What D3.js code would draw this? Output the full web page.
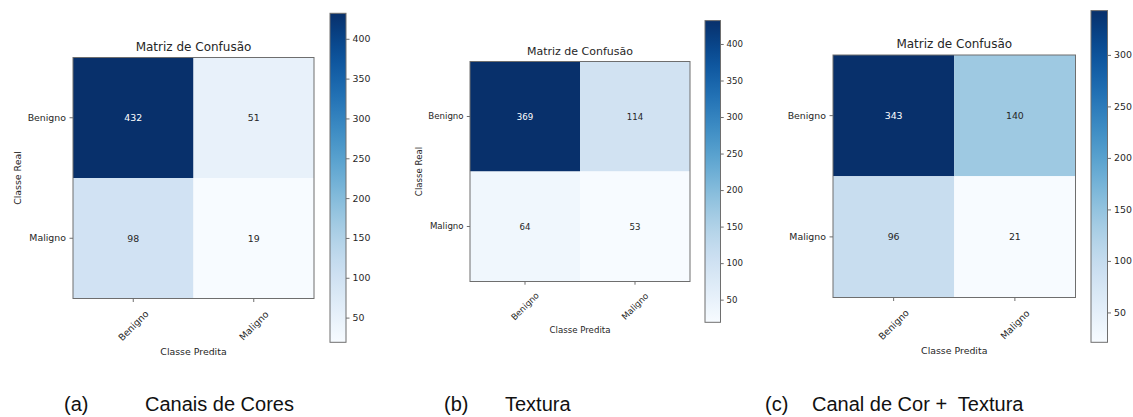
<!DOCTYPE html>
<html>
<head>
<meta charset="utf-8">
<script src="https://cdn.jsdelivr.net/npm/d3@7"></script>
<style>
  html, body { margin: 0; padding: 0; background: #fff; }
  svg { display: block; }
</style>
</head>
<body>
<svg id="chart" width="1133" height="417"></svg>
<script>
// Confusion matrices (rows: real class, columns: predicted class)
const categories = ["Benigno", "Maligno"];
const matrixCores = [[432, 51], [98, 19]];
const matrixTextura = [[369, 114], [64, 53]];
const matrixCorTextura = [[343, 140], [96, 21]];

// Colour bar ranges and ticks
const cbarRangeCores = [19, 432];
const cbarRangeTextura = [19, 432];
const cbarRangeCorTextura = [21, 343];
const cbarTicksCores = [50, 100, 150, 200, 250, 300, 350, 400];
const cbarTicksTextura = [50, 100, 150, 200, 250, 300, 350, 400];
const cbarTicksCorTextura = [50, 100, 150, 200, 250, 300];

// Texts
const chartTitle = "Matriz de Confusão";
const xAxisLabel = "Classe Predita";
const yAxisLabel = "Classe Real";
const captionTags = ["(a)", "(b)", "(c)"];
const captionTexts = ["Canais de Cores", "Textura", "Canal de Cor +  Textura"];

const panels = [
  { matrix: matrixCores, cbarRange: cbarRangeCores, cbarTicks: cbarTicksCores,
    left: 73, top: 57.5, size: 241, s: 1, showY: true,
    cb: { x: 330, w: 16, top: 13.3, bottom: 342.3 } },
  { matrix: matrixTextura, cbarRange: cbarRangeTextura, cbarTicks: cbarTicksTextura,
    left: 470, top: 61.5, size: 220, s: 0.917, showY: true,
    cb: { x: 705, w: 15.5, top: 20.6, bottom: 322.3 } },
  { matrix: matrixCorTextura, cbarRange: cbarRangeCorTextura, cbarTicks: cbarTicksCorTextura,
    left: 833, top: 55, size: 242.5, s: 1, showY: false,
    cb: { x: 1091, w: 16.5, top: 10.6, bottom: 342.3 } }
];

const captionLayout = [
  { tagX: 64, textX: 145 },
  { tagX: 444, textX: 505 },
  { tagX: 765, textX: 812 }
];

const svg = d3.select("#chart");
const FONT = "'DejaVu Sans', sans-serif";
const TEXT = "#262626";
const EDGE = "#6e6e6e";

const defs = svg.append("defs");

panels.forEach((p, i) => {
  const g = svg.append("g");
  const s = p.s;
  const fs = 9.4 * s;

  const x = d3.scaleBand().domain(categories).range([p.left, p.left + p.size]);
  const y = d3.scaleBand().domain(categories).range([p.top, p.top + p.size]);
  const flat = p.matrix.flat();
  const [vmin, vmax] = d3.extent(flat);
  const color = d3.scaleSequential(d3.interpolateBlues).domain([vmin, vmax]);

  const cells = [];
  p.matrix.forEach((row, r) => row.forEach((v, c) => cells.push({ r, c, v })));

  // heat-map cells
  g.selectAll("rect.cell").data(cells).join("rect")
    .attr("class", "cell")
    .attr("x", d => x(categories[d.c]))
    .attr("y", d => y(categories[d.r]))
    .attr("width", x.bandwidth())
    .attr("height", y.bandwidth())
    .attr("fill", d => color(d.v));

  // counts inside cells
  const thresh = vmax / 2;
  g.selectAll("text.val").data(cells).join("text")
    .attr("class", "val")
    .attr("x", d => x(categories[d.c]) + x.bandwidth() / 2)
    .attr("y", d => y(categories[d.r]) + y.bandwidth() / 2)
    .attr("text-anchor", "middle")
    .attr("dominant-baseline", "central")
    .attr("font-family", FONT)
    .attr("font-size", fs)
    .attr("fill", d => d.v > thresh ? "#ffffff" : TEXT)
    .text(d => d.v);

  // frame
  g.append("rect")
    .attr("x", p.left).attr("y", p.top)
    .attr("width", p.size).attr("height", p.size)
    .attr("fill", "none").attr("stroke", EDGE).attr("stroke-width", 1);

  // y axis
  const yAxis = d3.axisLeft(y).tickSize(3.5 * s).tickPadding(3.5 * s);
  const ya = g.append("g").attr("transform", `translate(${p.left},0)`).call(yAxis);
  ya.select(".domain").remove();
  ya.selectAll("line").attr("stroke", EDGE);
  ya.selectAll("text").attr("font-family", FONT).attr("font-size", fs).attr("fill", TEXT);

  // x axis with rotated labels
  const bottom = p.top + p.size;
  const xAxis = d3.axisBottom(x).tickSize(3.5 * s).tickFormat("");
  const xa = g.append("g").attr("transform", `translate(0,${bottom})`).call(xAxis);
  xa.select(".domain").remove();
  xa.selectAll("line").attr("stroke", EDGE);

  g.selectAll("text.xt").data(categories).join("text")
    .attr("class", "xt")
    .attr("font-family", FONT)
    .attr("font-size", fs)
    .attr("fill", TEXT)
    .attr("text-anchor", "middle")
    .attr("dominant-baseline", "central")
    .attr("transform", d => `translate(${x(d) + x.bandwidth() / 2},${bottom + 27 * s}) rotate(-45)`)
    .text(d => d);

  // title
  g.append("text")
    .attr("x", p.left + p.size / 2)
    .attr("y", p.top - 7 * s)
    .attr("text-anchor", "middle")
    .attr("font-family", FONT)
    .attr("font-size", 12 * s)
    .attr("fill", TEXT)
    .text(chartTitle);

  // axis labels
  g.append("text")
    .attr("x", p.left + p.size / 2)
    .attr("y", bottom + 53 * s)
    .attr("text-anchor", "middle")
    .attr("dominant-baseline", "central")
    .attr("font-family", FONT)
    .attr("font-size", fs)
    .attr("fill", TEXT)
    .text(xAxisLabel);

  if (p.showY) {
    g.append("text")
      .attr("transform", `translate(${p.left - 56 * s},${p.top + p.size / 2}) rotate(-90)`)
      .attr("text-anchor", "middle")
      .attr("dominant-baseline", "central")
      .attr("font-family", FONT)
      .attr("font-size", fs)
      .attr("fill", TEXT)
      .text(yAxisLabel);
  }

  // colour bar
  const cb = p.cb;
  const cy = d3.scaleLinear().domain(p.cbarRange).range([cb.bottom, cb.top]);
  const gradId = "cbgrad" + i;
  const grad = defs.append("linearGradient").attr("id", gradId)
    .attr("x1", 0).attr("y1", 1).attr("x2", 0).attr("y2", 0);
  d3.range(0, 1.0001, 0.05).forEach(t => {
    grad.append("stop").attr("offset", t).attr("stop-color", d3.interpolateBlues(t));
  });
  g.append("rect")
    .attr("x", cb.x).attr("y", cb.top)
    .attr("width", cb.w).attr("height", cb.bottom - cb.top)
    .attr("fill", `url(#${gradId})`)
    .attr("stroke", EDGE).attr("stroke-width", 1);

  const cAxis = d3.axisRight(cy).tickValues(p.cbarTicks).tickSize(3.5 * s).tickPadding(3 * s);
  const ca = g.append("g").attr("transform", `translate(${cb.x + cb.w},0)`).call(cAxis);
  ca.select(".domain").remove();
  ca.selectAll("line").attr("stroke", EDGE);
  ca.selectAll("text").attr("font-family", FONT).attr("font-size", fs).attr("fill", TEXT);
});

// captions under each panel
const cap = svg.append("g");
captionTags.forEach((tag, i) => {
  cap.append("text")
    .attr("x", captionLayout[i].tagX).attr("y", 411)
    .attr("font-family", "'Liberation Sans', Arial, sans-serif")
    .attr("font-size", 20).attr("fill", "#111")
    .text(tag);
  cap.append("text")
    .attr("x", captionLayout[i].textX).attr("y", 411)
    .attr("font-family", "'Liberation Sans', Arial, sans-serif")
    .attr("font-size", 20).attr("fill", "#111")
    .style("white-space", "pre")
    .text(captionTexts[i]);
});
</script>
</body>
</html>
